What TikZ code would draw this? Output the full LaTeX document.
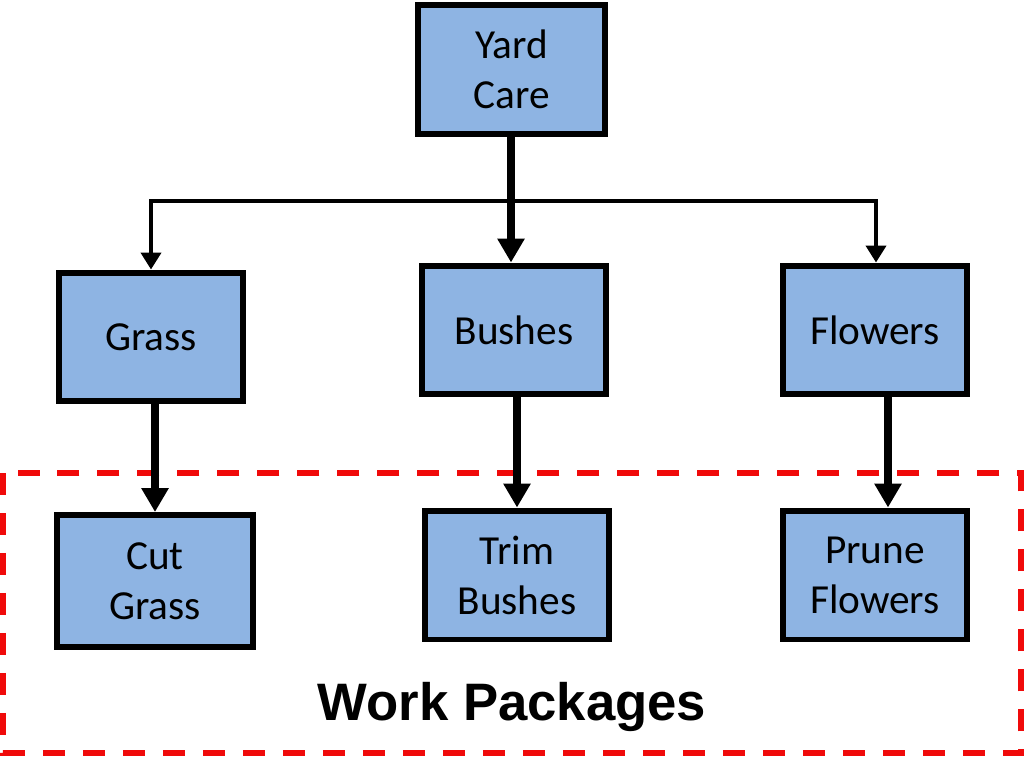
\documentclass[tikz,border=0pt]{standalone}
\usepackage{fontspec}
\setmainfont{Carlito}
\newfontfamily\labelfont{Liberation Sans}
\usepackage{tikz}
\usetikzlibrary{arrows.meta}
\definecolor{boxblue}{HTML}{8EB4E3}
\definecolor{wpred}{HTML}{F00A0A}
\tikzset{
	wbsbox/.style={draw=black, fill=boxblue, line width=0.12cm, minimum width=3.7cm, minimum height=2.58cm, align=center, inner sep=0pt, font=\fontsize{23.5}{28.5}\selectfont},
	trunk/.style={line width=0.16cm, -{Triangle[width=0.52cm, length=0.48cm]}},
	branch/.style={line width=0.08cm, -{Triangle[width=0.4cm, length=0.34cm]}},
}

\begin{document}
\begin{tikzpicture}[x=0.02cm, y=-0.02cm]
			%%%%% START %%%%%
			\useasboundingbox[fill=white] (0, 0) rectangle (1024, 768);
			
			\draw[wpred, line width=0.12cm, dash pattern=on 0.44cm off 0.36cm] (3, 473) rectangle (1021, 753);
			\node[font=\labelfont\bfseries\fontsize{30}{36}\selectfont] (wp) at (512, 707) {Work Packages};
			
			\node[wbsbox, minimum width=3.74cm] (yard) at (511.5, 69.5) {Yard\\Care};
			
			\node[wbsbox] (grass) at (151, 337) {Grass};
			\node[wbsbox] (bushes) at (514, 330) {Bushes};
			\node[wbsbox] (flowers) at (875, 330) {Flowers};
			
			\node[wbsbox, minimum width=3.92cm, minimum height=2.64cm] (cutgrass) at (155, 581) {Cut\\Grass};
			\node[wbsbox] (trimbushes) at (517, 575) {Trim\\Bushes};
			\node[wbsbox] (pruneflowers) at (875, 575) {Prune\\Flowers};
			
			\coordinate (split) at (511, 201);
			\draw[line width=0.08cm, line cap=rect] (grass.north |- split) -- (flowers.north |- split);
			\draw[branch] (split) -| (grass.north);
			\draw[branch] (split) -| ([xshift=0.02cm]flowers.north);
			\draw[trunk] (yard.south -| split) -- (bushes.north -| split);
			
			\draw[trunk] (cutgrass.north |- grass.south) -- (cutgrass.north);
			\draw[trunk] (trimbushes.north |- bushes.south) -- (trimbushes.north);
			\draw[trunk] ([xshift=0.26cm]pruneflowers.north |- flowers.south) -- ([xshift=0.26cm]pruneflowers.north);
			%%%%% END %%%%%
		\end{tikzpicture}
\end{document}
